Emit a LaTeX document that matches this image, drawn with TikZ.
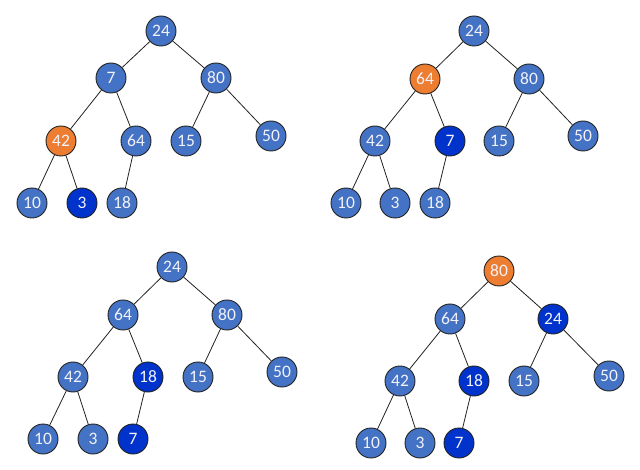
\documentclass[tikz,border=0pt]{standalone}
\usepackage{fontspec}
\setmainfont{Carlito}
\definecolor{nblue}{HTML}{4472C4}
\definecolor{norange}{HTML}{ED7D31}
\definecolor{ndark}{HTML}{0033CC}
\definecolor{nline}{HTML}{222222}
\definecolor{ntext}{HTML}{F2F2F8}
\begin{document}
\begin{tikzpicture}[x=1pt,y=-1pt,
  nd/.style={circle,draw=nline,line width=0.9pt,fill=nblue,minimum size=30pt,inner sep=0pt,text=ntext,font=\fontsize{17.5}{18}\selectfont},
  hot/.style={nd,fill=norange},
  dk/.style={nd,fill=ndark},
  edge/.style={draw=nline,line width=0.8pt}]
\useasboundingbox (0,0) rectangle (640,470);
% Tree 1
\node[nd]  (a24) at (161,31) {24};
\node[nd]  (a7)  at (111,78) {7};
\node[nd]  (a80) at (216,78) {80};
\node[hot] (a42) at (61,141) {42};
\node[nd]  (a64) at (136,141) {64};
\node[nd]  (a15) at (186,141) {15};
\node[nd]  (a50) at (271,136) {50};
\node[nd]  (a10) at (32,203) {10};
\node[dk]  (a3)  at (82,203) {3};
\node[nd]  (a18) at (122,203) {18};
\draw[edge] (a24)--(a7) (a24)--(a80) (a7)--(a42) (a7)--(a64) (a80)--(a15) (a80)--(a50) (a42)--(a10) (a42)--(a3) (a64)--(a18);
% Tree 2
\node[nd]  (b24) at (474,31) {24};
\node[hot] (b64) at (425,79) {64};
\node[nd]  (b80) at (529,79) {80};
\node[nd]  (b42) at (375,141) {42};
\node[dk]  (b7)  at (450,141) {7};
\node[nd]  (b15) at (499,141) {15};
\node[nd]  (b50) at (583,136) {50};
\node[nd]  (b10) at (346,203) {10};
\node[nd]  (b3)  at (395,203) {3};
\node[nd]  (b18) at (435,203) {18};
\draw[edge] (b24)--(b64) (b24)--(b80) (b64)--(b42) (b64)--(b7) (b80)--(b15) (b80)--(b50) (b42)--(b10) (b42)--(b3) (b7)--(b18);
% Tree 3
\node[nd]  (c24) at (172,267) {24};
\node[nd]  (c64) at (123,315) {64};
\node[nd]  (c80) at (227,315) {80};
\node[nd]  (c42) at (73,377) {42};
\node[dk]  (c18) at (148,377) {18};
\node[nd]  (c15) at (198,377) {15};
\node[nd]  (c50) at (282,372) {50};
\node[nd]  (c10) at (43,439) {10};
\node[nd]  (c3)  at (93,439) {3};
\node[dk]  (c7)  at (133,439) {7};
\draw[edge] (c24)--(c64) (c24)--(c80) (c64)--(c42) (c64)--(c18) (c80)--(c15) (c80)--(c50) (c42)--(c10) (c42)--(c3) (c18)--(c7);
% Tree 4
\node[hot] (d80) at (499,271) {80};
\node[nd]  (d64) at (450,319) {64};
\node[dk]  (d24) at (553,319) {24};
\node[nd]  (d42) at (400,381) {42};
\node[dk]  (d18) at (474,381) {18};
\node[nd]  (d15) at (524,381) {15};
\node[nd]  (d50) at (609,376) {50};
\node[nd]  (d10) at (371,443) {10};
\node[nd]  (d3)  at (420,443) {3};
\node[dk]  (d7)  at (459,443) {7};
\draw[edge] (d80)--(d64) (d80)--(d24) (d64)--(d42) (d64)--(d18) (d24)--(d15) (d24)--(d50) (d42)--(d10) (d42)--(d3) (d18)--(d7);
\end{tikzpicture}
\end{document}
